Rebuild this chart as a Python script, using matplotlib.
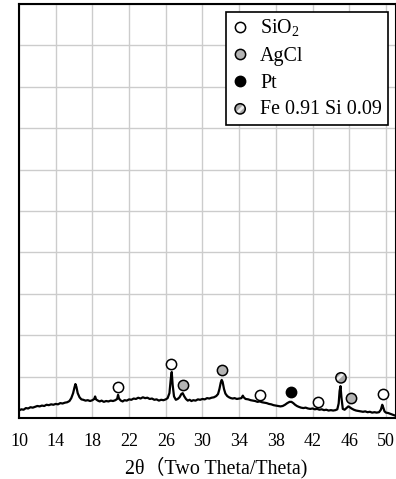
import numpy as np
import matplotlib
matplotlib.use("Agg")
import matplotlib.pyplot as plt
from matplotlib.lines import Line2D
from matplotlib.legend_handler import HandlerTuple

plt.rcParams['font.family'] = ['Liberation Serif', 'Noto Sans CJK SC']
plt.rcParams['mathtext.fontset'] = 'custom'
plt.rcParams['mathtext.rm'] = 'Liberation Serif'
plt.rcParams['hatch.linewidth'] = 2.0

# %% diffraction pattern (2theta, intensity)
two_theta = [
    10.0, 10.25, 10.5, 10.75, 11.0, 11.25, 11.5, 11.75, 12.0, 12.25, 12.5, 12.75,
    13.0, 13.25, 13.5, 13.75, 14.0, 14.25, 14.5, 14.75, 15.0, 15.25, 15.5, 15.7,
    15.9, 16.05, 16.15, 16.25, 16.4, 16.6, 16.8, 17.0, 17.25, 17.5, 17.75, 18.0,
    18.2, 18.3, 18.4, 18.6, 18.8, 19.0, 19.25, 19.5, 19.75, 20.0, 20.25, 20.5,
    20.7, 20.8, 20.9, 21.1, 21.3, 21.5, 21.75, 22.0, 22.25, 22.5, 22.75, 23.0,
    23.25, 23.5, 23.75, 24.0, 24.25, 24.5, 24.75, 25.0, 25.25, 25.5, 25.75, 26.0,
    26.2, 26.4, 26.55, 26.65, 26.75, 26.9, 27.1, 27.3, 27.5, 27.7, 27.85, 28.0,
    28.2, 28.4, 28.6, 28.8, 29.0, 29.25, 29.5, 29.75, 30.0, 30.25, 30.5, 30.75,
    31.0, 31.25, 31.5, 31.7, 31.85, 32.0, 32.1, 32.2, 32.35, 32.5, 32.7, 32.9,
    33.1, 33.3, 33.5, 33.75, 34.0, 34.25, 34.4, 34.5, 34.7, 35.0, 35.25, 35.5,
    35.75, 36.0, 36.25, 36.5, 36.75, 37.0, 37.25, 37.5, 37.75, 38.0, 38.25, 38.5,
    38.75, 39.0, 39.25, 39.5, 39.7, 39.9, 40.1, 40.3, 40.5, 40.75, 41.0, 41.25,
    41.5, 41.75, 42.0, 42.25, 42.5, 42.75, 43.0, 43.25, 43.5, 43.75, 44.0, 44.25,
    44.5, 44.7, 44.85, 44.95, 45.05, 45.15, 45.3, 45.5, 45.7, 45.9, 46.05, 46.25,
    46.5, 46.75, 47.0, 47.25, 47.5, 47.75, 48.0, 48.25, 48.5, 48.75, 49.0, 49.25,
    49.45, 49.6, 49.7, 49.85, 50.0, 50.25, 50.5, 50.75, 51.0, 51.1,
]
intensity = [
    1.8, 2.1, 2.0, 2.4, 2.3, 2.6, 2.5, 2.7, 2.9, 2.8, 3.0, 2.9,
    3.2, 3.1, 3.3, 3.2, 3.4, 3.3, 3.6, 3.5, 3.7, 3.8, 4.1, 4.8,
    6.0, 7.4, 8.2, 7.6, 6.0, 5.0, 4.5, 4.4, 4.2, 4.3, 4.1, 4.3,
    4.6, 5.2, 4.5, 4.2, 4.0, 4.2, 3.9, 4.1, 4.0, 4.2, 4.1, 4.3,
    4.6, 5.6, 4.7, 4.2, 4.0, 4.3, 4.2, 4.5, 4.4, 4.7, 4.6, 4.9,
    4.7, 5.0, 4.8, 4.9, 4.6, 4.7, 4.4, 4.5, 4.2, 4.4, 4.3, 4.5,
    4.8, 6.0, 9.5, 11.1, 8.0, 5.2, 4.4, 4.6, 5.0, 5.8, 6.0, 5.3,
    4.6, 4.2, 4.4, 4.1, 4.3, 4.2, 4.5, 4.4, 4.6, 4.5, 4.8, 4.7,
    4.9, 5.0, 5.3, 5.8, 7.0, 8.6, 9.2, 8.7, 7.0, 5.9, 5.3, 5.0,
    4.8, 4.7, 4.8, 4.6, 4.7, 4.8, 5.4, 5.0, 4.6, 4.5, 4.3, 4.2,
    4.1, 3.9, 4.0, 3.8, 3.7, 3.6, 3.4, 3.3, 3.1, 3.0, 2.9, 2.8,
    2.9, 3.2, 3.6, 3.9, 3.9, 3.6, 3.2, 2.9, 2.7, 2.5, 2.4, 2.5,
    2.3, 2.2, 2.3, 2.1, 2.2, 2.0, 2.1, 1.9, 2.0, 1.8, 1.9, 1.8,
    1.9, 2.1, 3.5, 6.5, 7.7, 5.0, 2.2, 2.0, 2.4, 2.8, 2.6, 2.3,
    2.0, 1.8, 1.7, 1.6, 1.5, 1.6, 1.4, 1.5, 1.3, 1.4, 1.3, 1.4,
    2.0, 3.2, 2.6, 1.6, 1.3, 1.2, 1.0, 0.8, 0.6, 0.5,
]

# %% phase markers
sio2_x = [20.8, 26.6, 36.3, 42.6, 49.7]
sio2_y = [7.5, 13.0, 5.6, 3.9, 5.8]
agcl_x = [27.9, 32.1, 46.2]
agcl_y = [8.0, 11.6, 4.8]
pt_x = [39.6]
pt_y = [6.3]
fesi_x = [45.1]
fesi_y = [9.7]

xticks = [10, 14, 18, 22, 26, 30, 34, 38, 42, 46, 50]

# %%
fig = plt.figure(figsize=(3.96, 4.79), dpi=100)
ax = fig.add_axes([19 / 396, 1 - 418 / 479, 377 / 396, 414 / 479])

ax.plot(two_theta, intensity, color='black', linewidth=1.6, zorder=3)

ms = 7.4
ax.plot(sio2_x, sio2_y, 'o', ms=ms, mfc='white', mec='black', mew=1.1, zorder=4)
ax.plot(agcl_x, agcl_y, 'o', ms=ms, mfc='#b4b4b4', mec='black', mew=1.1, zorder=4)
ax.plot(pt_x, pt_y, 'o', ms=ms, mfc='black', mec='black', mew=1.1, zorder=4)
fe_fill = ax.scatter(fesi_x, fesi_y, s=ms ** 2, facecolor='#a8a8a8', edgecolor='#eeeeee',
                     hatch='//', linewidth=0, zorder=4)
fe_edge = ax.scatter(fesi_x, fesi_y, s=ms ** 2, facecolor='none', edgecolor='black',
                     linewidth=1.1, zorder=5)

ax.set_xlim(10, 51.1)
ax.set_ylim(0, 100)
ax.set_xticks(xticks)
ax.set_yticks(np.arange(0, 101, 10))
ax.set_yticklabels([])
ax.tick_params(length=0, labelsize=13, pad=11)
ax.grid(True, color='#cccccc', linewidth=1.0)
ax.set_axisbelow(True)
for s in ax.spines.values():
    s.set_linewidth(1.5)
ax.set_xlabel('2θ（Two Theta/Theta)', fontsize=14.4)
ax.xaxis.set_label_coords(0.523, -0.094)

handles = [
    Line2D([], [], ls='none', marker='o', ms=ms, mfc='white', mec='black', mew=1.1),
    Line2D([], [], ls='none', marker='o', ms=ms, mfc='#b4b4b4', mec='black', mew=1.1),
    Line2D([], [], ls='none', marker='o', ms=ms, mfc='black', mec='black', mew=1.1),
    (fe_fill, fe_edge),
]
labels = [r'SiO$_\mathregular{2}$', 'AgCl', 'Pt', 'Fe 0.91 Si 0.09']
leg = ax.legend(handles, labels, loc='upper right',
                bbox_to_anchor=(1 - 8 / 377, 1 - 8 / 414), borderaxespad=0,
                fontsize=14.4, fancybox=False, framealpha=1, edgecolor='black',
                handlelength=0.8, handletextpad=0.6, borderpad=0.3,
                labelspacing=0.38, scatterpoints=1,
                handler_map={tuple: HandlerTuple(ndivide=1)})
leg.get_frame().set_linewidth(1.2)

fig.savefig('out.png', dpi=100)
